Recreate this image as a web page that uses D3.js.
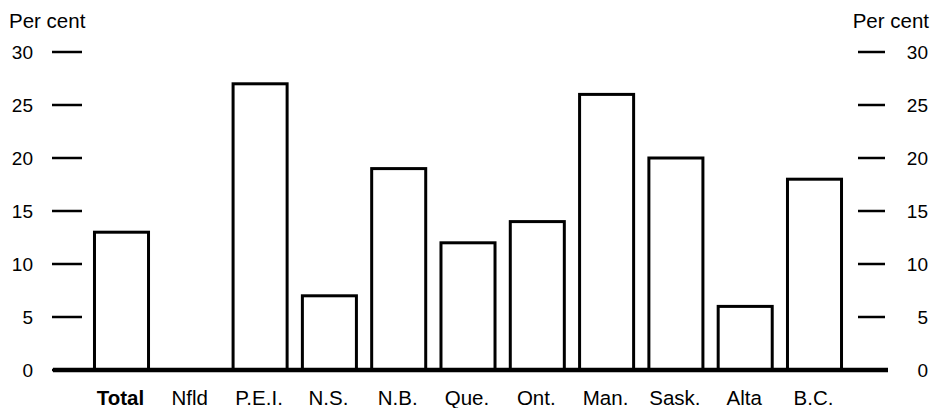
<!DOCTYPE html>
<html>
<head>
<meta charset="utf-8">
<script src="https://cdn.jsdelivr.net/npm/d3@7"></script>
<style>
	body { margin: 0; background: #fff; }
	text { font-family: "Liberation Sans", Arial, sans-serif; fill: #000; }
</style>
</head>
<body>
<script>
// data
const provinces = ['Total', 'Nfld', 'P.E.I.', 'N.S.', 'N.B.', 'Que.', 'Ont.', 'Man.', 'Sask.', 'Alta', 'B.C.']
const values = [13, null, 27, 7, 19, 12, 14, 26, 20, 6, 18]
const yTicks = [0, 5, 10, 15, 20, 25, 30]

const width = 932
const height = 408

const svg = d3.select('body').append('svg')
	.attr('width', width)
	.attr('height', height)

// schalen
const x = d3.scaleBand().domain(provinces).range([86.85, 849.15]).paddingInner(0.177).paddingOuter(0.0885)
const y = d3.scaleLinear().domain([0, 30]).range([370, 52])

const tickSize = 19 // cijfers
const labelSize = 20.5 // tekst

// linker as
const leftAxis = svg.append('g')
leftAxis.selectAll('line').data(yTicks).join('line')
	.attr('x1', 52).attr('x2', 82)
	.attr('y1', d => y(d)).attr('y2', d => y(d))
	.attr('stroke', '#000').attr('stroke-width', 2.5)
leftAxis.selectAll('text').data(yTicks).join('text')
	.attr('x', 33).attr('y', d => y(d))
	.attr('dy', '0.35em')
	.attr('text-anchor', 'end')
	.style('font-size', tickSize + 'px')
	.text(d => d)

// rechter as
const rightAxis = svg.append('g')
rightAxis.selectAll('line').data(yTicks).join('line')
	.attr('x1', 858).attr('x2', 885)
	.attr('y1', d => y(d)).attr('y2', d => y(d))
	.attr('stroke', '#000').attr('stroke-width', 2.5)
rightAxis.selectAll('text').data(yTicks).join('text')
	.attr('x', 928).attr('y', d => y(d))
	.attr('dy', '0.35em')
	.attr('text-anchor', 'end')
	.style('font-size', tickSize + 'px')
	.text(d => d)

svg.append('text').attr('x', 9).attr('y', 28).style('font-size', labelSize + 'px').text('Per cent')
svg.append('text').attr('x', 929).attr('y', 28).attr('text-anchor', 'end').style('font-size', labelSize + 'px').text('Per cent')

// balken
const data = provinces.map((p, i) => ({ name: p, value: values[i] })).filter(d => d.value != null)
svg.selectAll('rect.bar').data(data).join('rect')
	.attr('class', 'bar')
	.attr('x', d => x(d.name) + 1.5)
	.attr('width', x.bandwidth() - 3)
	.attr('y', d => y(d.value))
	.attr('height', d => y(0) - y(d.value))
	.attr('fill', '#fff')
	.attr('stroke', '#000')
	.attr('stroke-width', 3)

// nul lijn
svg.append('line')
	.attr('x1', 53).attr('x2', 888)
	.attr('y1', y(0)).attr('y2', y(0))
	.attr('stroke', '#000').attr('stroke-width', 4.5)

// categorie labels
svg.selectAll('text.cat').data(provinces).join('text')
	.attr('class', 'cat')
	.attr('x', d => x(d) + x.bandwidth() / 2 - 1)
	.attr('y', 405)
	.attr('text-anchor', 'middle')
	.style('font-size', labelSize + 'px')
	.style('font-weight', d => d === 'Total' ? 'bold' : 'normal')
	.text(d => d)
</script>
</body>
</html>
